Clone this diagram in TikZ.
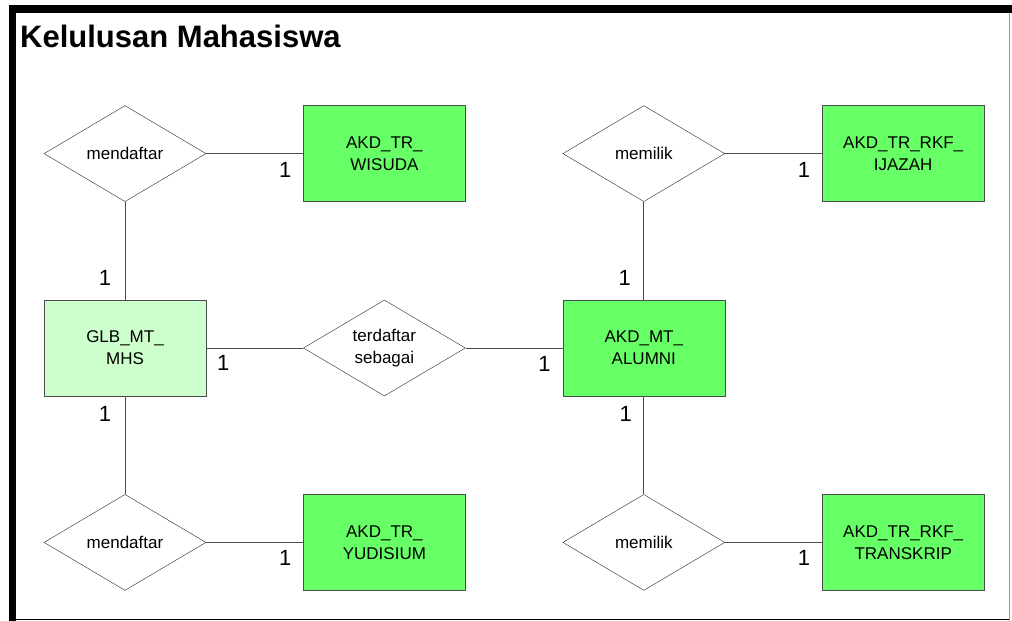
\documentclass[tikz,border=0pt]{standalone}
\usepackage{fontspec}
\setmainfont{Liberation Sans}
\usetikzlibrary{positioning,shapes.geometric}

\definecolor{entgreen}{HTML}{66FF66}
\definecolor{entlight}{HTML}{CCFFCC}

\begin{document}
\begin{tikzpicture}[
  x=1pt, y=-1pt,
  every node/.style={align=center},
  ent/.style  ={rectangle, draw=black!70, fill=entgreen, font=\fontsize{17}{22}\selectfont,
                minimum width=162pt, minimum height=96pt, inner sep=2pt},
  entm/.style ={ent, fill=entlight},
  rel/.style  ={diamond, aspect=1.69, draw=black!85, fill=white, font=\fontsize{17}{22}\selectfont,
                minimum width=162pt, minimum height=96pt, inner sep=0pt},
  card/.style ={font=\fontsize{22}{22}\selectfont, inner sep=0pt},
  link/.style ={draw=black!70, line width=0.8pt},
  node distance=98pt and 97pt,
]
\useasboundingbox (0,0) rectangle (1012,621);

% -------- frame and title -------------------------------------------------
\fill[black] (9,5) rectangle (16,621);
\fill[black] (9,5) rectangle (1012,13);
\draw[black!40, line width=0.8pt] (1009,13) -- (1009,621);
\draw[black, line width=1.2pt] (16,619.5) -- (1009,619.5);
\node[anchor=base west, inner sep=0pt, font=\fontsize{31}{31}\selectfont\bfseries]
  (title) at (20,47) {Kelulusan Mahasiswa};

% -------- left column -----------------------------------------------------
\node[entm] (mhs) at (125,348) {GLB\_MT\_\\MHS};
\node[rel, above=of mhs] (daftw) {mendaftar};
\node[ent, right=of daftw] (wisuda) {AKD\_TR\_\\WISUDA};
\node[rel, below=of mhs] (dafty) {mendaftar};
\node[ent, right=of dafty] (yudisium) {AKD\_TR\_\\YUDISIUM};

% -------- middle ----------------------------------------------------------
\node[rel, right=of mhs] (sebagai) {terdaftar\\sebagai};
\node[ent, right=of sebagai] (alumni) {AKD\_MT\_\\ALUMNI};

% -------- right column ----------------------------------------------------
\node[rel, above=of alumni] (miliki) {memilik};
\node[ent, right=of miliki] (ijazah) {AKD\_TR\_RKF\_\\IJAZAH};
\node[rel, below=of alumni] (milikt) {memilik};
\node[ent, right=of milikt] (transkrip) {AKD\_TR\_RKF\_\\TRANSKRIP};

% -------- connectors ------------------------------------------------------
\foreach \a/\b in {daftw/wisuda, dafty/yudisium, mhs/sebagai, sebagai/alumni,
                   miliki/ijazah, milikt/transkrip}
  \draw[link] (\a.east) -- (\b.west);
\foreach \a/\b in {mhs/daftw, alumni/miliki}
  \draw[link] (\a.north) -- (\b.south);
\foreach \a/\b in {mhs/dafty, alumni/milikt}
  \draw[link] (\a.south) -- (\b.north);

% -------- cardinalities ---------------------------------------------------
\foreach \e in {wisuda, yudisium, alumni, ijazah, transkrip}
  \node[card] (c-\e) at ([xshift=-18pt, yshift=-16pt]\e.west) {1};
\node[card] (c-mhse) at ([xshift=17pt, yshift=-15pt]mhs.east) {1};
\node[card] (c-mhsn) at ([xshift=-20pt, yshift=22pt]mhs.north) {1};
\node[card] (c-mhss) at ([xshift=-20pt, yshift=-18pt]mhs.south) {1};
\node[card] (c-alun) at ([xshift=-19pt, yshift=22pt]alumni.north) {1};
\node[card] (c-alus) at ([xshift=-18pt, yshift=-18pt]alumni.south) {1};

\end{tikzpicture}
\end{document}
